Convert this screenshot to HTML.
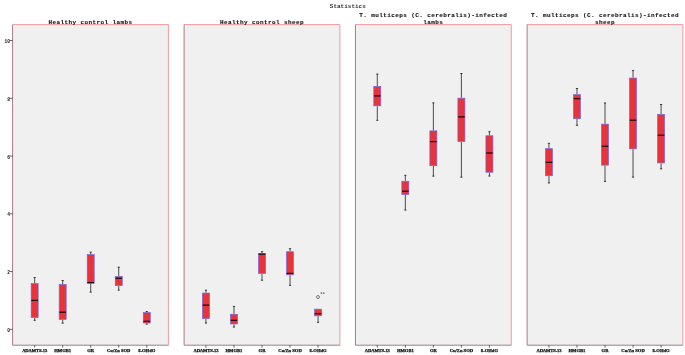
<!DOCTYPE html>
<html><head><meta charset="utf-8"><title>Statistics</title>
<style>
html,body{margin:0;padding:0;background:#fff;}
svg{display:block;}
.tt{font-family:"Liberation Mono",monospace;font-weight:bold;font-size:6px;letter-spacing:0.4px;fill:#111;stroke:#111;stroke-width:0.1px;}
.xl{font-family:"Liberation Serif",serif;font-weight:bold;font-size:4.6px;fill:#111;stroke:#111;stroke-width:0.25px;}
.yl{font-family:"Liberation Mono",monospace;font-size:4.6px;font-weight:bold;fill:#111;}
.w{stroke:#222;stroke-width:0.8;}
</style></head><body>
<svg width="685" height="355" viewBox="0 0 685 355">
<rect width="685" height="355" fill="#ffffff"/>
<text x="347.8" y="7.7" text-anchor="middle" font-family="'Liberation Mono', monospace" font-size="6" font-weight="bold" fill="#333">Statistics</text>
<rect x="12.60" y="24.6" width="155.8" height="320.60" fill="#f0f0f0"/>
<path d="M12.60 24.6 H168.40 V345.2" fill="none" stroke="#ee9aa0" stroke-width="1"/>
<path d="M12.60 24.6 V345.2 H168.40" fill="none" stroke="#a87c82" stroke-width="1" stroke-linejoin="round"/>
<text x="90.50" y="23.6" text-anchor="middle" class="tt">Healthy control lambs</text>
<line x1="34.65" y1="345.2" x2="34.65" y2="347.60" stroke="#222" stroke-width="0.7"/>
<text x="34.65" y="352.2" text-anchor="middle" class="xl" letter-spacing="-0.12">ADAMTS-13</text>
<line x1="34.65" y1="277.2" x2="34.65" y2="283.3" class="w"/>
<line x1="33.55" y1="277.5" x2="35.75" y2="277.5" class="w"/>
<line x1="34.65" y1="317.8" x2="34.65" y2="320.6" class="w"/>
<line x1="33.55" y1="320.3" x2="35.75" y2="320.3" class="w"/>
<rect x="31.15" y="283.65" width="7.0" height="33.80" fill="#e8333b" stroke="#7466e0" stroke-width="0.7"/>
<line x1="31.35" y1="300.4" x2="37.95" y2="300.4" stroke="#1a0508" stroke-width="1.2"/>
<line x1="62.68" y1="345.2" x2="62.68" y2="347.60" stroke="#222" stroke-width="0.7"/>
<text x="62.68" y="352.2" text-anchor="middle" class="xl">HMGB1</text>
<line x1="62.68" y1="280.2" x2="62.68" y2="284.1" class="w"/>
<line x1="61.58" y1="280.5" x2="63.78" y2="280.5" class="w"/>
<line x1="62.68" y1="319.7" x2="62.68" y2="323.4" class="w"/>
<line x1="61.58" y1="323.09999999999997" x2="63.78" y2="323.09999999999997" class="w"/>
<rect x="59.18" y="284.45" width="7.0" height="34.90" fill="#e8333b" stroke="#7466e0" stroke-width="0.7"/>
<line x1="59.38" y1="312.2" x2="65.98" y2="312.2" stroke="#1a0508" stroke-width="1.2"/>
<line x1="90.71" y1="345.2" x2="90.71" y2="347.60" stroke="#222" stroke-width="0.7"/>
<text x="90.71" y="352.2" text-anchor="middle" class="xl">GR</text>
<line x1="90.71" y1="251.9" x2="90.71" y2="254.2" class="w"/>
<line x1="89.61" y1="252.20000000000002" x2="91.81" y2="252.20000000000002" class="w"/>
<line x1="90.71" y1="283.6" x2="90.71" y2="292.4" class="w"/>
<line x1="89.61" y1="292.09999999999997" x2="91.81" y2="292.09999999999997" class="w"/>
<rect x="87.21" y="254.55" width="7.0" height="28.70" fill="#e8333b" stroke="#7466e0" stroke-width="0.7"/>
<line x1="87.41" y1="282.6" x2="94.01" y2="282.6" stroke="#1a0508" stroke-width="1.2"/>
<line x1="118.74" y1="345.2" x2="118.74" y2="347.60" stroke="#222" stroke-width="0.7"/>
<text x="118.74" y="352.2" text-anchor="middle" class="xl">Cu/Zn SOD</text>
<line x1="118.74" y1="266.9" x2="118.74" y2="276" class="w"/>
<line x1="117.64" y1="267.2" x2="119.84" y2="267.2" class="w"/>
<line x1="118.74" y1="285.9" x2="118.74" y2="290.4" class="w"/>
<line x1="117.64" y1="290.09999999999997" x2="119.84" y2="290.09999999999997" class="w"/>
<rect x="115.24" y="276.35" width="7.0" height="9.20" fill="#e8333b" stroke="#7466e0" stroke-width="0.7"/>
<line x1="115.44" y1="278.3" x2="122.04" y2="278.3" stroke="#1a0508" stroke-width="1.2"/>
<line x1="146.77" y1="345.2" x2="146.77" y2="347.60" stroke="#222" stroke-width="0.7"/>
<text x="146.77" y="352.2" text-anchor="middle" class="xl">8-OHdG</text>
<line x1="146.77" y1="311.2" x2="146.77" y2="312.2" class="w"/>
<line x1="145.67" y1="311.5" x2="147.87" y2="311.5" class="w"/>
<line x1="146.77" y1="323.4" x2="146.77" y2="324.4" class="w"/>
<line x1="145.67" y1="324.09999999999997" x2="147.87" y2="324.09999999999997" class="w"/>
<rect x="143.27" y="312.55" width="7.0" height="10.50" fill="#e8333b" stroke="#7466e0" stroke-width="0.7"/>
<line x1="143.47" y1="321.3" x2="150.07" y2="321.3" stroke="#1a0508" stroke-width="1.2"/>
<rect x="184.10" y="24.6" width="155.8" height="320.60" fill="#f0f0f0"/>
<path d="M184.10 24.6 H339.90 V345.2" fill="none" stroke="#ee9aa0" stroke-width="1"/>
<path d="M184.10 24.6 V345.2 H339.90" fill="none" stroke="#a87c82" stroke-width="1" stroke-linejoin="round"/>
<text x="262.00" y="23.6" text-anchor="middle" class="tt">Healthy control sheep</text>
<line x1="205.95" y1="345.2" x2="205.95" y2="347.60" stroke="#222" stroke-width="0.7"/>
<text x="205.95" y="352.2" text-anchor="middle" class="xl" letter-spacing="-0.12">ADAMTS-13</text>
<line x1="205.95" y1="289.9" x2="205.95" y2="292.7" class="w"/>
<line x1="204.85" y1="290.2" x2="207.05" y2="290.2" class="w"/>
<line x1="205.95" y1="319" x2="205.95" y2="323.3" class="w"/>
<line x1="204.85" y1="323.0" x2="207.05" y2="323.0" class="w"/>
<rect x="202.45" y="293.05" width="7.0" height="25.60" fill="#e8333b" stroke="#7466e0" stroke-width="0.7"/>
<line x1="202.65" y1="305.1" x2="209.25" y2="305.1" stroke="#1a0508" stroke-width="1.2"/>
<line x1="233.98" y1="345.2" x2="233.98" y2="347.60" stroke="#222" stroke-width="0.7"/>
<text x="233.98" y="352.2" text-anchor="middle" class="xl">HMGB1</text>
<line x1="233.98" y1="306.1" x2="233.98" y2="313.9" class="w"/>
<line x1="232.88" y1="306.40000000000003" x2="235.08" y2="306.40000000000003" class="w"/>
<line x1="233.98" y1="324.3" x2="233.98" y2="327.3" class="w"/>
<line x1="232.88" y1="327.0" x2="235.08" y2="327.0" class="w"/>
<rect x="230.48" y="314.25" width="7.0" height="9.70" fill="#e8333b" stroke="#7466e0" stroke-width="0.7"/>
<line x1="230.68" y1="320.3" x2="237.28" y2="320.3" stroke="#1a0508" stroke-width="1.2"/>
<line x1="262.01" y1="345.2" x2="262.01" y2="347.60" stroke="#222" stroke-width="0.7"/>
<text x="262.01" y="352.2" text-anchor="middle" class="xl">GR</text>
<line x1="262.01" y1="251.4" x2="262.01" y2="253.2" class="w"/>
<line x1="260.91" y1="251.70000000000002" x2="263.11" y2="251.70000000000002" class="w"/>
<line x1="262.01" y1="273.7" x2="262.01" y2="280.5" class="w"/>
<line x1="260.91" y1="280.2" x2="263.11" y2="280.2" class="w"/>
<rect x="258.51" y="253.55" width="7.0" height="19.80" fill="#e8333b" stroke="#7466e0" stroke-width="0.7"/>
<line x1="258.71" y1="254.2" x2="265.31" y2="254.2" stroke="#1a0508" stroke-width="1.2"/>
<line x1="290.04" y1="345.2" x2="290.04" y2="347.60" stroke="#222" stroke-width="0.7"/>
<text x="290.04" y="352.2" text-anchor="middle" class="xl">Cu/Zn SOD</text>
<line x1="290.04" y1="248.4" x2="290.04" y2="251.4" class="w"/>
<line x1="288.94" y1="248.70000000000002" x2="291.14" y2="248.70000000000002" class="w"/>
<line x1="290.04" y1="275.2" x2="290.04" y2="285.6" class="w"/>
<line x1="288.94" y1="285.3" x2="291.14" y2="285.3" class="w"/>
<rect x="286.54" y="251.75" width="7.0" height="23.10" fill="#e8333b" stroke="#7466e0" stroke-width="0.7"/>
<line x1="286.74" y1="273.4" x2="293.34" y2="273.4" stroke="#1a0508" stroke-width="1.2"/>
<line x1="318.07" y1="345.2" x2="318.07" y2="347.60" stroke="#222" stroke-width="0.7"/>
<text x="318.07" y="352.2" text-anchor="middle" class="xl">8-OHdG</text>
<line x1="318.07" y1="316.2" x2="318.07" y2="322.6" class="w"/>
<line x1="316.97" y1="322.3" x2="319.17" y2="322.3" class="w"/>
<rect x="314.57" y="309.15" width="7.0" height="6.70" fill="#e8333b" stroke="#7466e0" stroke-width="0.7"/>
<line x1="314.77" y1="313.7" x2="321.37" y2="313.7" stroke="#1a0508" stroke-width="1.2"/>
<rect x="355.45" y="24.6" width="155.8" height="320.60" fill="#f0f0f0"/>
<path d="M355.45 24.6 H511.25 V345.2" fill="none" stroke="#ee9aa0" stroke-width="1"/>
<path d="M355.45 24.6 V345.2 H511.25" fill="none" stroke="#a87c82" stroke-width="1" stroke-linejoin="round"/>
<text x="433.35" y="16.5" text-anchor="middle" class="tt">T. multiceps (C. cerebralis)-infected</text>
<text x="433.35" y="23.5" text-anchor="middle" class="tt">lambs</text>
<line x1="377.30" y1="345.2" x2="377.30" y2="347.60" stroke="#222" stroke-width="0.7"/>
<text x="377.30" y="352.2" text-anchor="middle" class="xl" letter-spacing="-0.12">ADAMTS-13</text>
<line x1="377.30" y1="73.8" x2="377.30" y2="86" class="w"/>
<line x1="376.20" y1="74.1" x2="378.40" y2="74.1" class="w"/>
<line x1="377.30" y1="106.2" x2="377.30" y2="120.6" class="w"/>
<line x1="376.20" y1="120.3" x2="378.40" y2="120.3" class="w"/>
<rect x="373.80" y="86.35" width="7.0" height="19.50" fill="#e8333b" stroke="#7466e0" stroke-width="0.7"/>
<line x1="374.00" y1="95.9" x2="380.60" y2="95.9" stroke="#1a0508" stroke-width="1.2"/>
<line x1="405.33" y1="345.2" x2="405.33" y2="347.60" stroke="#222" stroke-width="0.7"/>
<text x="405.33" y="352.2" text-anchor="middle" class="xl">HMGB1</text>
<line x1="405.33" y1="175" x2="405.33" y2="180.9" class="w"/>
<line x1="404.23" y1="175.3" x2="406.43" y2="175.3" class="w"/>
<line x1="405.33" y1="194.9" x2="405.33" y2="210.3" class="w"/>
<line x1="404.23" y1="210.0" x2="406.43" y2="210.0" class="w"/>
<rect x="401.83" y="181.25" width="7.0" height="13.30" fill="#e8333b" stroke="#7466e0" stroke-width="0.7"/>
<line x1="402.03" y1="191.2" x2="408.63" y2="191.2" stroke="#1a0508" stroke-width="1.2"/>
<line x1="433.36" y1="345.2" x2="433.36" y2="347.60" stroke="#222" stroke-width="0.7"/>
<text x="433.36" y="352.2" text-anchor="middle" class="xl">GR</text>
<line x1="433.36" y1="102.6" x2="433.36" y2="130.5" class="w"/>
<line x1="432.26" y1="102.89999999999999" x2="434.46" y2="102.89999999999999" class="w"/>
<line x1="433.36" y1="166.0" x2="433.36" y2="176.4" class="w"/>
<line x1="432.26" y1="176.1" x2="434.46" y2="176.1" class="w"/>
<rect x="429.86" y="130.85" width="7.0" height="34.80" fill="#e8333b" stroke="#7466e0" stroke-width="0.7"/>
<line x1="430.06" y1="141.6" x2="436.66" y2="141.6" stroke="#1a0508" stroke-width="1.2"/>
<line x1="461.39" y1="345.2" x2="461.39" y2="347.60" stroke="#222" stroke-width="0.7"/>
<text x="461.39" y="352.2" text-anchor="middle" class="xl">Cu/Zn SOD</text>
<line x1="461.39" y1="73.2" x2="461.39" y2="97.8" class="w"/>
<line x1="460.29" y1="73.5" x2="462.49" y2="73.5" class="w"/>
<line x1="461.39" y1="141.8" x2="461.39" y2="177.4" class="w"/>
<line x1="460.29" y1="177.1" x2="462.49" y2="177.1" class="w"/>
<rect x="457.89" y="98.15" width="7.0" height="43.30" fill="#e8333b" stroke="#7466e0" stroke-width="0.7"/>
<line x1="458.09" y1="116.9" x2="464.69" y2="116.9" stroke="#1a0508" stroke-width="1.2"/>
<line x1="489.42" y1="345.2" x2="489.42" y2="347.60" stroke="#222" stroke-width="0.7"/>
<text x="489.42" y="352.2" text-anchor="middle" class="xl">8-OHdG</text>
<line x1="489.42" y1="131.4" x2="489.42" y2="135.4" class="w"/>
<line x1="488.32" y1="131.70000000000002" x2="490.52" y2="131.70000000000002" class="w"/>
<line x1="489.42" y1="172.6" x2="489.42" y2="176.3" class="w"/>
<line x1="488.32" y1="176.0" x2="490.52" y2="176.0" class="w"/>
<rect x="485.92" y="135.75" width="7.0" height="36.50" fill="#e8333b" stroke="#7466e0" stroke-width="0.7"/>
<line x1="486.12" y1="153.0" x2="492.72" y2="153.0" stroke="#1a0508" stroke-width="1.2"/>
<rect x="527.10" y="24.6" width="155.8" height="320.60" fill="#f0f0f0"/>
<path d="M527.10 24.6 H682.90 V345.2" fill="none" stroke="#ee9aa0" stroke-width="1"/>
<path d="M527.10 24.6 V345.2 H682.90" fill="none" stroke="#a87c82" stroke-width="1" stroke-linejoin="round"/>
<text x="605.00" y="16.5" text-anchor="middle" class="tt">T. multiceps (C. cerebralis)-infected</text>
<text x="605.00" y="23.5" text-anchor="middle" class="tt">sheep</text>
<line x1="548.95" y1="345.2" x2="548.95" y2="347.60" stroke="#222" stroke-width="0.7"/>
<text x="548.95" y="352.2" text-anchor="middle" class="xl" letter-spacing="-0.12">ADAMTS-13</text>
<line x1="548.95" y1="143" x2="548.95" y2="148.3" class="w"/>
<line x1="547.85" y1="143.3" x2="550.05" y2="143.3" class="w"/>
<line x1="548.95" y1="176.1" x2="548.95" y2="183.2" class="w"/>
<line x1="547.85" y1="182.89999999999998" x2="550.05" y2="182.89999999999998" class="w"/>
<rect x="545.45" y="148.65" width="7.0" height="27.10" fill="#e8333b" stroke="#7466e0" stroke-width="0.7"/>
<line x1="545.65" y1="162.3" x2="552.25" y2="162.3" stroke="#1a0508" stroke-width="1.2"/>
<line x1="576.98" y1="345.2" x2="576.98" y2="347.60" stroke="#222" stroke-width="0.7"/>
<text x="576.98" y="352.2" text-anchor="middle" class="xl">HMGB1</text>
<line x1="576.98" y1="88.2" x2="576.98" y2="94.3" class="w"/>
<line x1="575.88" y1="88.5" x2="578.08" y2="88.5" class="w"/>
<line x1="576.98" y1="119" x2="576.98" y2="125.6" class="w"/>
<line x1="575.88" y1="125.3" x2="578.08" y2="125.3" class="w"/>
<rect x="573.48" y="94.65" width="7.0" height="24.00" fill="#e8333b" stroke="#7466e0" stroke-width="0.7"/>
<line x1="573.68" y1="98.7" x2="580.28" y2="98.7" stroke="#1a0508" stroke-width="1.2"/>
<line x1="605.01" y1="345.2" x2="605.01" y2="347.60" stroke="#222" stroke-width="0.7"/>
<text x="605.01" y="352.2" text-anchor="middle" class="xl">GR</text>
<line x1="605.01" y1="102.7" x2="605.01" y2="123.8" class="w"/>
<line x1="603.91" y1="103.0" x2="606.11" y2="103.0" class="w"/>
<line x1="605.01" y1="165.5" x2="605.01" y2="181.8" class="w"/>
<line x1="603.91" y1="181.5" x2="606.11" y2="181.5" class="w"/>
<rect x="601.51" y="124.15" width="7.0" height="41.00" fill="#e8333b" stroke="#7466e0" stroke-width="0.7"/>
<line x1="601.71" y1="146.3" x2="608.31" y2="146.3" stroke="#1a0508" stroke-width="1.2"/>
<line x1="633.04" y1="345.2" x2="633.04" y2="347.60" stroke="#222" stroke-width="0.7"/>
<text x="633.04" y="352.2" text-anchor="middle" class="xl">Cu/Zn SOD</text>
<line x1="633.04" y1="70.3" x2="633.04" y2="77.7" class="w"/>
<line x1="631.94" y1="70.6" x2="634.14" y2="70.6" class="w"/>
<line x1="633.04" y1="149.2" x2="633.04" y2="177.4" class="w"/>
<line x1="631.94" y1="177.1" x2="634.14" y2="177.1" class="w"/>
<rect x="629.54" y="78.05" width="7.0" height="70.80" fill="#e8333b" stroke="#7466e0" stroke-width="0.7"/>
<line x1="629.74" y1="120.2" x2="636.34" y2="120.2" stroke="#1a0508" stroke-width="1.2"/>
<line x1="661.07" y1="345.2" x2="661.07" y2="347.60" stroke="#222" stroke-width="0.7"/>
<text x="661.07" y="352.2" text-anchor="middle" class="xl">8-OHdG</text>
<line x1="661.07" y1="104.2" x2="661.07" y2="114" class="w"/>
<line x1="659.97" y1="104.5" x2="662.17" y2="104.5" class="w"/>
<line x1="661.07" y1="163.3" x2="661.07" y2="169.1" class="w"/>
<line x1="659.97" y1="168.79999999999998" x2="662.17" y2="168.79999999999998" class="w"/>
<rect x="657.57" y="114.35" width="7.0" height="48.60" fill="#e8333b" stroke="#7466e0" stroke-width="0.7"/>
<line x1="657.77" y1="135.2" x2="664.37" y2="135.2" stroke="#1a0508" stroke-width="1.2"/>
<circle cx="318" cy="297" r="1.5" fill="none" stroke="#333" stroke-width="0.6"/>
<text x="320.1" y="293.9" font-family="'Liberation Mono', monospace" font-size="4.2" fill="#111">11</text>
<line x1="9.9" y1="40.5" x2="12.6" y2="40.5" stroke="#222" stroke-width="0.7"/>
<text x="9.9" y="42.90" text-anchor="end" class="yl">10</text>
<line x1="9.9" y1="98.3" x2="12.6" y2="98.3" stroke="#222" stroke-width="0.7"/>
<text x="9.9" y="100.70" text-anchor="end" class="yl">8</text>
<line x1="9.9" y1="156.1" x2="12.6" y2="156.1" stroke="#222" stroke-width="0.7"/>
<text x="9.9" y="158.50" text-anchor="end" class="yl">6</text>
<line x1="9.9" y1="213.8" x2="12.6" y2="213.8" stroke="#222" stroke-width="0.7"/>
<text x="9.9" y="216.20" text-anchor="end" class="yl">4</text>
<line x1="9.9" y1="271.6" x2="12.6" y2="271.6" stroke="#222" stroke-width="0.7"/>
<text x="9.9" y="274.00" text-anchor="end" class="yl">2</text>
<line x1="9.9" y1="329.4" x2="12.6" y2="329.4" stroke="#222" stroke-width="0.7"/>
<text x="9.9" y="331.80" text-anchor="end" class="yl">0</text>
</svg>
</body></html>
